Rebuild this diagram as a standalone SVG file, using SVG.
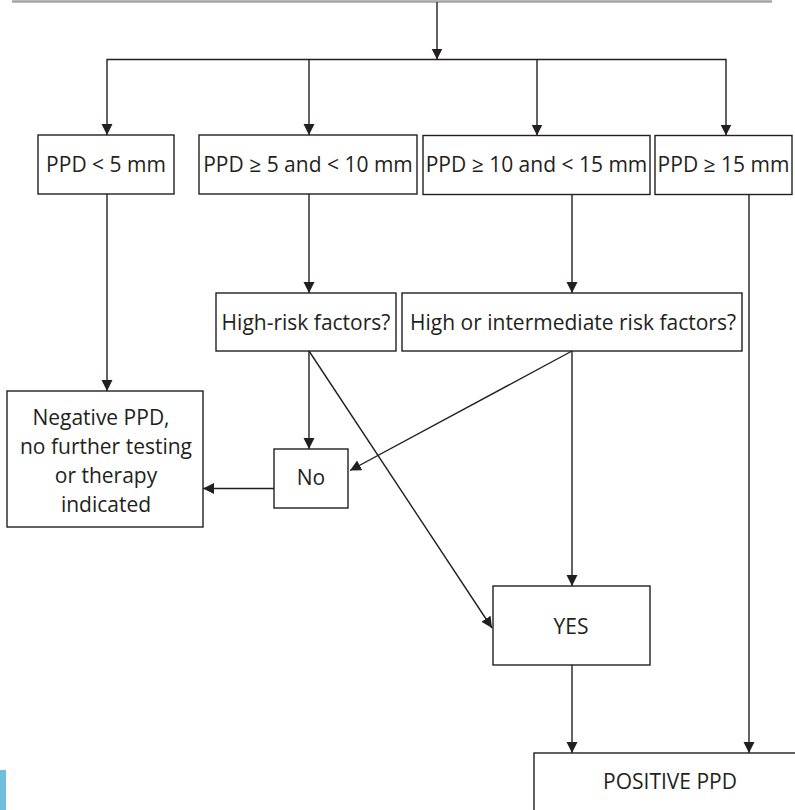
<svg xmlns="http://www.w3.org/2000/svg" width="795" height="810" viewBox="0 0 795 810">
  <style>
    .box { fill: #ffffff; stroke: #231f20; stroke-width: 1.4; }
    .lbl { font-family: "Open Sans", "Noto Sans", "Liberation Sans", sans-serif; font-size: 21px; fill: #231f20; text-anchor: middle; }
    .wire { fill: none; stroke: #231f20; stroke-width: 1.4; }
    .arrow { marker-end: url(#head); }
  </style>
  <defs>
    <marker id="head" markerUnits="userSpaceOnUse" markerWidth="12" markerHeight="12" refX="11" refY="5.5" orient="auto">
      <path d="M0,0 L11,5.5 L0,11 z" fill="#231f20"/>
    </marker>
  </defs>

  <rect width="795" height="810" fill="#ffffff"/>

  <!-- edge of the box above, cut off by the page -->
  <line x1="12" y1="1.5" x2="772" y2="1.5" stroke="#a3a3a3" stroke-width="2.5"/>
  <!-- margin tab -->
  <rect x="0" y="770" width="6" height="40" fill="#6fbedd"/>

  <g id="connectors">
    <line class="wire arrow" x1="437" y1="2" x2="437" y2="59.5"/>
    <line class="wire" x1="106.5" y1="59.5" x2="726.5" y2="59.5"/>
    <line class="wire arrow" x1="107" y1="59.5" x2="107" y2="135"/>
    <line class="wire arrow" x1="309" y1="59.5" x2="309" y2="135"/>
    <line class="wire arrow" x1="537" y1="59.5" x2="537" y2="135.5"/>
    <line class="wire arrow" x1="726" y1="59.5" x2="726" y2="135.5"/>

    <line class="wire arrow" x1="107" y1="194" x2="107" y2="391"/>
    <line class="wire arrow" x1="309" y1="194" x2="309" y2="293"/>
    <line class="wire arrow" x1="572" y1="195" x2="572" y2="293"/>
    <line class="wire arrow" x1="749" y1="195" x2="749" y2="753"/>

    <line class="wire arrow" x1="309" y1="351" x2="309" y2="449"/>
    <line class="wire arrow" x1="309" y1="351" x2="492" y2="628"/>
    <line class="wire arrow" x1="572" y1="351" x2="350" y2="470.5"/>
    <line class="wire arrow" x1="572" y1="351" x2="572" y2="586"/>

    <line class="wire arrow" x1="274" y1="488.5" x2="203" y2="488.5"/>
    <line class="wire arrow" x1="572" y1="665" x2="572" y2="753"/>
  </g>

  <g id="ppd-lt5">
    <rect class="box" x="38" y="135" width="136" height="59"/>
    <text class="lbl" x="106" y="172">PPD &lt; 5 mm</text>
  </g>
  <g id="ppd-5-10">
    <rect class="box" x="199" y="135" width="218" height="59"/>
    <text class="lbl" x="308" y="172">PPD ≥ 5 and &lt; 10 mm</text>
  </g>
  <g id="ppd-10-15">
    <rect class="box" x="423" y="135.5" width="227" height="59"/>
    <text class="lbl" x="536.5" y="172">PPD ≥ 10 and &lt; 15 mm</text>
  </g>
  <g id="ppd-ge15">
    <rect class="box" x="655" y="135.5" width="137" height="59"/>
    <text class="lbl" x="723.5" y="172">PPD ≥ 15 mm</text>
  </g>

  <g id="high-risk">
    <rect class="box" x="216" y="293" width="180" height="58"/>
    <text class="lbl" x="306" y="330">High-risk factors?</text>
  </g>
  <g id="high-intermediate-risk">
    <rect class="box" x="402" y="293" width="340" height="58"/>
    <text class="lbl" x="573" y="330">High or intermediate risk factors?</text>
  </g>

  <g id="negative">
    <rect class="box" x="7" y="391" width="196" height="136"/>
    <text class="lbl" x="101" y="425">Negative PPD,</text>
    <text class="lbl" x="106" y="454">no further testing</text>
    <text class="lbl" x="106" y="483">or therapy</text>
    <text class="lbl" x="106" y="512">indicated</text>
  </g>

  <g id="no">
    <rect class="box" x="274" y="449" width="74" height="59"/>
    <text class="lbl" x="311" y="485">No</text>
  </g>

  <g id="yes">
    <rect class="box" x="493" y="586" width="157" height="79"/>
    <text class="lbl" x="571" y="634">YES</text>
  </g>

  <g id="positive">
    <rect class="box" x="534" y="753" width="270" height="70"/>
    <text class="lbl" x="670" y="789">POSITIVE PPD</text>
  </g>
</svg>
